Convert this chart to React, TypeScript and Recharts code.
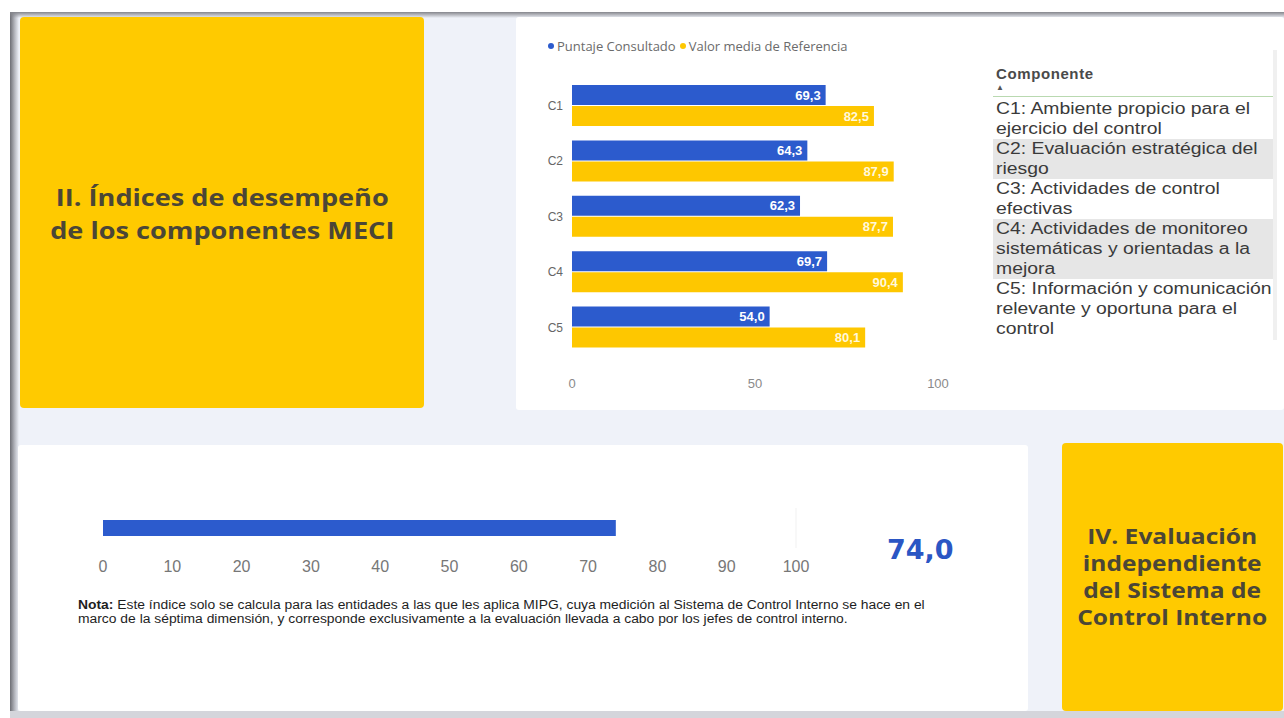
import { BarChart, Bar, XAxis, YAxis, Legend, LabelList, ReferenceLine } from "recharts";

const componentes = ["C1", "C2", "C3", "C4", "C5"];
const puntajeConsultado = [69.3, 64.3, 62.3, 69.7, 54.0];
const valorMediaReferencia = [82.5, 87.9, 87.7, 90.4, 80.1];
const ticksComponentes = [0, 50, 100];

const indiceCategoria = ["Índice de evaluación independiente"];
const indiceValor = [74.0];
const ticksIndice = [0, 10, 20, 30, 40, 50, 60, 70, 80, 90, 100];

const descripciones = [
  ["C1: Ambiente propicio para el", "ejercicio del control"],
  ["C2: Evaluación estratégica del", "riesgo"],
  ["C3: Actividades de control", "efectivas"],
  ["C4: Actividades de monitoreo", "sistemáticas y orientadas a la", "mejora"],
  ["C5: Información y comunicación", "relevante y oportuna para el", "control"],
];

const notaLineas = [
  "Este índice solo se calcula para las entidades a las que les aplica MIPG, cuya medición al Sistema de Control Interno se hace en el",
  "marco de la séptima dimensión, y corresponde exclusivamente a la evaluación llevada a cabo por los jefes de control interno.",
];

const AZUL = "#2c5bcd";
const AMARILLO = "#fec700";
const PANEL_AMARILLO = "#ffca00";
const TEXTO_PANEL = "#4b4636";
const FONDO = "#eff2f9";

const fmt = (v: unknown) => Number(v).toFixed(1).replace(".", ",");

const datosComponentes = componentes.map((c, i) => ({
  componente: c,
  puntaje: puntajeConsultado[i],
  referencia: valorMediaReferencia[i],
}));

const datosIndice = indiceCategoria.map((c, i) => ({ nombre: c, valor: indiceValor[i] }));

function Leyenda(props: any) {
  const items = props.payload || [];
  return (
    <div style={{ display: "flex", alignItems: "center", whiteSpace: "nowrap", fontFamily: "'Open Sans', sans-serif", fontSize: 13, color: "#6b6b6b" }}>
      {items.map((it: any) => (
        <span key={it.value} style={{ display: "flex", alignItems: "center", marginRight: 4 }}>
          <span style={{ width: 6, height: 6, borderRadius: 3, background: it.color, marginRight: 3 }} />
          {it.value}
        </span>
      ))}
    </div>
  );
}

const abs = (l: number, t: number, w: number, h: number) => ({
  position: "absolute" as const, left: l, top: t, width: w, height: h,
});

export default function App() {
  return (
    <div style={{ ...abs(0, 0, 1284, 718), background: "#ffffff", overflow: "hidden" }}>
      <div style={{ ...abs(10, 12, 1274, 706), background: FONDO }} />
      <div style={{ ...abs(10, 12, 9, 706), background: "linear-gradient(to right, #6d6e74, #b9bbc2 55%, rgba(239,242,249,0))" }} />
      <div style={{ ...abs(10, 12, 1274, 6), background: "linear-gradient(to bottom, #85868c, rgba(239,242,249,0))" }} />
      <div style={{ ...abs(10, 711, 1274, 7), background: "#d4d5db" }} />

      {/* panel II */}
      <div style={{ ...abs(20, 17, 404, 391), background: PANEL_AMARILLO, borderRadius: 4, display: "flex", alignItems: "center", justifyContent: "center" }}>
        <div style={{ fontFamily: "'Open Sans', sans-serif", fontWeight: 700, fontSize: 24, lineHeight: "33px", color: TEXTO_PANEL, textAlign: "center", transform: "scaleX(1.13)", whiteSpace: "nowrap" }}>
          II. Índices de desempeño<br />de los componentes MECI
        </div>
      </div>

      {/* panel grafico componentes */}
      <div style={{ ...abs(516, 17, 768, 393), background: "#ffffff", borderRadius: 3 }} />
      <div style={abs(520, 30, 440, 370)}>
        <BarChart width={440} height={370} data={datosComponentes} layout="vertical" barSize={20} barGap={1} margin={{ top: 48, right: 22, bottom: 5, left: 0 }}>
          <XAxis type="number" domain={[0, 100]} ticks={ticksComponentes} axisLine={false} tickLine={false} tickSize={0} tickMargin={24} height={40}
            tick={{ fill: "#8a8a8a", fontSize: 13, fontFamily: "'Liberation Sans', Arial, sans-serif" }} />
          <YAxis type="category" dataKey="componente" width={52} axisLine={false} tickLine={false} tickSize={0} tickMargin={9}
            tick={{ fill: "#666666", fontSize: 12, fontFamily: "'Liberation Sans', Arial, sans-serif" }} />
          <Legend verticalAlign="middle" layout="horizontal" content={<Leyenda />} wrapperStyle={{ top: 7, left: 28, width: "auto" }} />
          <Bar dataKey="puntaje" name="Puntaje Consultado" fill={AZUL} isAnimationActive={false}>
            <LabelList dataKey="puntaje" position="insideRight" formatter={fmt} fill="#ffffff" fontSize={13} fontWeight={700} fontFamily="'Liberation Sans', Arial, sans-serif" />
          </Bar>
          <Bar dataKey="referencia" name="Valor media de Referencia" fill={AMARILLO} isAnimationActive={false}>
            <LabelList dataKey="referencia" position="insideRight" formatter={fmt} fill="#fff8dc" fontSize={13} fontWeight={700} fontFamily="'Liberation Sans', Arial, sans-serif" />
          </Bar>
        </BarChart>
      </div>

      {/* tabla de componentes */}
      <div style={{ ...abs(993, 64, 282, 276), fontFamily: "'Liberation Sans', Arial, sans-serif", color: "#3a3a3a" }}>
        <div style={{ paddingLeft: 3, fontWeight: 700, fontSize: 15, letterSpacing: 0.6, color: "#4a4a4a", lineHeight: "20px" }}>Componente</div>
        <div style={{ paddingLeft: 3, fontSize: 8, lineHeight: "8px", color: "#555" }}>▲</div>
        <div style={{ height: 1, background: "#b9d9b0", marginTop: 4, marginBottom: 2 }} />
        {descripciones.map((lineas, i) => (
          <div key={i} style={{ background: i % 2 === 1 ? "#e6e6e6" : "transparent", paddingLeft: 3 }}>
            {lineas.map((l) => (
              <div key={l} style={{ fontSize: 16, lineHeight: "20px", whiteSpace: "nowrap", transform: "scaleX(1.21)", transformOrigin: "left center" }}>{l}</div>
            ))}
          </div>
        ))}
      </div>
      <div style={{ ...abs(1273, 50, 4, 290), background: "#f0f0f0" }} />

      {/* panel indice */}
      <div style={{ ...abs(18, 445, 1010, 266), background: "#ffffff", borderRadius: 3 }} />
      <div style={abs(60, 495, 760, 85)}>
        <BarChart width={760} height={85} data={datosIndice} layout="vertical" barSize={16} margin={{ top: 13, right: 24, bottom: 2, left: 43 }}>
          <XAxis type="number" domain={[0, 100]} ticks={ticksIndice} axisLine={false} tickLine={false} tickSize={0} tickMargin={13} height={30}
            tick={{ fill: "#777777", fontSize: 16, fontFamily: "'Liberation Sans', Arial, sans-serif" }} />
          <YAxis type="category" dataKey="nombre" hide />
          <ReferenceLine x={100} stroke="#f1f1f1" />
          <Bar dataKey="valor" fill={AZUL} isAnimationActive={false} />
        </BarChart>
      </div>
      <div style={{ position: "absolute", left: 887, top: 534, fontFamily: "'DejaVu Sans', sans-serif", fontWeight: 700, fontSize: 27, color: "#2b56c4" }}>
        {fmt(indiceValor[0])}
      </div>
      <div style={{ position: "absolute", left: 78, top: 598, fontFamily: "'Liberation Sans', Arial, sans-serif", fontSize: 12, lineHeight: "14px", color: "#1e1e1e", whiteSpace: "nowrap", transform: "scaleX(1.155)", transformOrigin: "left top" }}>
        <div><b>Nota:</b> {notaLineas[0]}</div>
        <div>{notaLineas[1]}</div>
      </div>

      {/* panel IV */}
      <div style={{ ...abs(1062, 443, 221, 268), background: PANEL_AMARILLO, borderRadius: 4, display: "flex", alignItems: "center", justifyContent: "center" }}>
        <div style={{ fontFamily: "'Open Sans', sans-serif", fontWeight: 700, fontSize: 21, lineHeight: "27px", color: TEXTO_PANEL, textAlign: "center", transform: "scaleX(1.17)", whiteSpace: "nowrap" }}>
          IV. Evaluación<br />independiente<br />del Sistema de<br />Control Interno
        </div>
      </div>
    </div>
  );
}
